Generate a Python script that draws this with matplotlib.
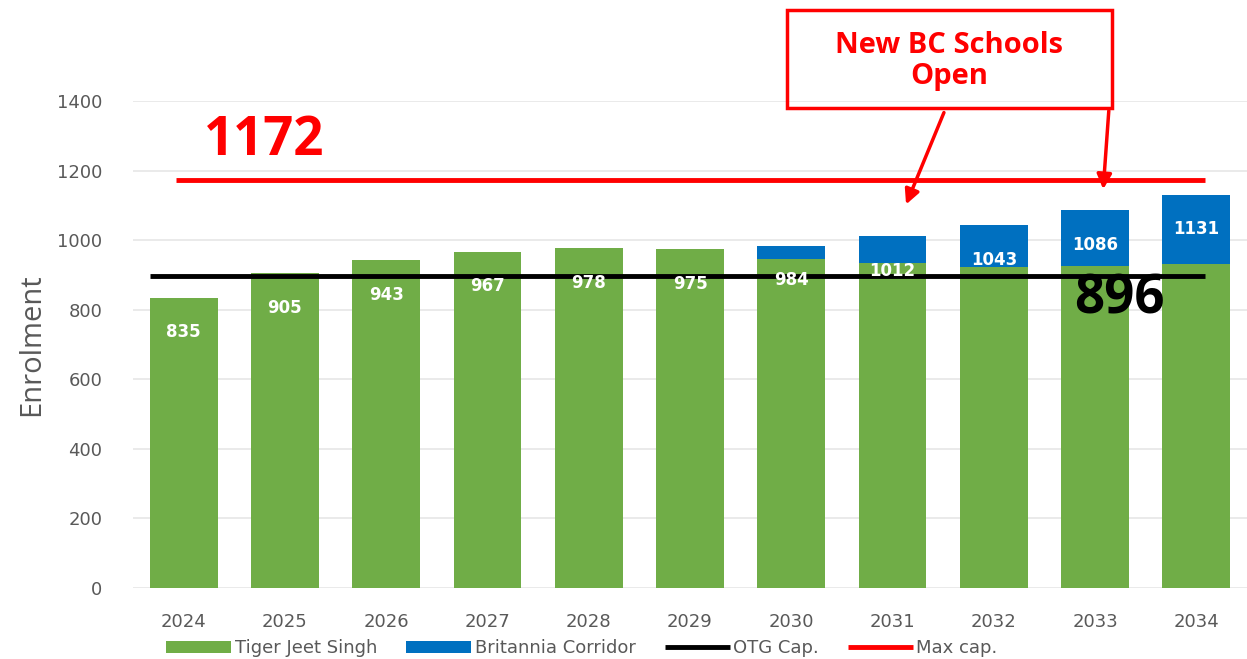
import matplotlib.pyplot as plt
import numpy as np

# enrolment data
years = ['2024', '2025', '2026', '2027', '2028', '2029', '2030', '2031', '2032', '2033', '2034']
tiger = [835, 905, 943, 967, 978, 975, 946, 934, 923, 926, 931]
britannia = [0, 0, 0, 0, 0, 0, 38, 78, 120, 160, 200]
totals = [835, 905, 943, 967, 978, 975, 984, 1012, 1043, 1086, 1131]
otg_cap = 896
max_cap = 1172

GREEN = '#70AD47'
BLUE = '#0070C0'
GRAY = '#595959'

fig = plt.figure(figsize=(12.47, 6.59), dpi=100)
ax = fig.add_axes([133 / 1247, 1 - 588 / 659, 1114 / 1247, (588 - 101) / 659])

x = np.arange(len(years))
b1 = ax.bar(x, tiger, width=0.67, color=GREEN, label='Tiger Jeet Singh', zorder=2)
b2 = ax.bar(x, britannia, width=0.67, bottom=tiger, color=BLUE, label='Britannia Corridor', zorder=2)
l1 = ax.hlines(otg_cap, x[0] - 0.33, x[-1] + 0.09, color='black', lw=3.5, label='OTG Cap.', zorder=4)
l2 = ax.hlines(max_cap, x[0] - 0.08, x[-1] + 0.09, color='#FF0000', lw=3.5, label='Max cap.', zorder=4)

for xi, t in zip(x, totals):
    ax.text(xi, t - 100, str(t), ha='center', va='center', color='white',
            fontsize=12, fontweight='bold', zorder=5)

ax.set_xlim(-0.5, 10.5)
ax.set_ylim(0, 1400)
ax.set_yticks(np.arange(0, 1401, 200))
ax.set_xticks(x)
ax.set_xticklabels(years)
ax.tick_params(length=0, colors=GRAY, labelsize=13, pad=18)
ax.tick_params(axis='y', pad=22)
ax.grid(axis='y', color='#E6E6E6', lw=1.2, zorder=0)
for s in ax.spines.values():
    s.set_visible(False)
ax.set_ylabel('Enrolment', fontsize=21, color=GRAY, family='Open Sans', labelpad=8)

# big callouts
ax.text(0.2, 1285, '1172', color='#FF0000', fontsize=38, fontweight='bold',
        family='Open Sans', va='center', ha='left')
ax.text(9.24, 830, '896', color='black', fontsize=38, fontweight='bold',
        family='Open Sans', va='center', ha='center', zorder=6)

# annotation box with arrows
fig.text(949 / 1247, 1 - 61 / 659, 'New BC Schools\nOpen', color='#FF0000', fontsize=21,
         fontweight='bold', family='Open Sans', ha='center', va='center', linespacing=1.05)
fig.patches.append(plt.Rectangle((787 / 1247, 1 - 108 / 659), 325 / 1247, 98 / 659,
                                 transform=fig.transFigure, fill=False, ec='#FF0000', lw=2.5))
for (x0, y0), (x1, y1) in [((945, 110), (905, 207)), ((1109, 108), (1103, 192))]:
    fig.add_artist(plt.Annotation('', xy=(x1 / 1247, 1 - y1 / 659), xytext=(x0 / 1247, 1 - y0 / 659),
                                  xycoords='figure fraction', textcoords='figure fraction',
                                  arrowprops=dict(arrowstyle='-|>', color='#FF0000', lw=2.5,
                                                  mutation_scale=22)))

leg = fig.legend([b1, b2, l1, l2], ['Tiger Jeet Singh', 'Britannia Corridor', 'OTG Cap.', 'Max cap.'],
                 loc='lower left', bbox_to_anchor=(150 / 1247, -0.022), ncol=4, frameon=False,
                 handlelength=3.6, handleheight=0.6, columnspacing=1.6,
                 handletextpad=0.2, prop={'size': 13})
for t in leg.get_texts():
    t.set_color(GRAY)

plt.savefig('out.png', dpi=100)
